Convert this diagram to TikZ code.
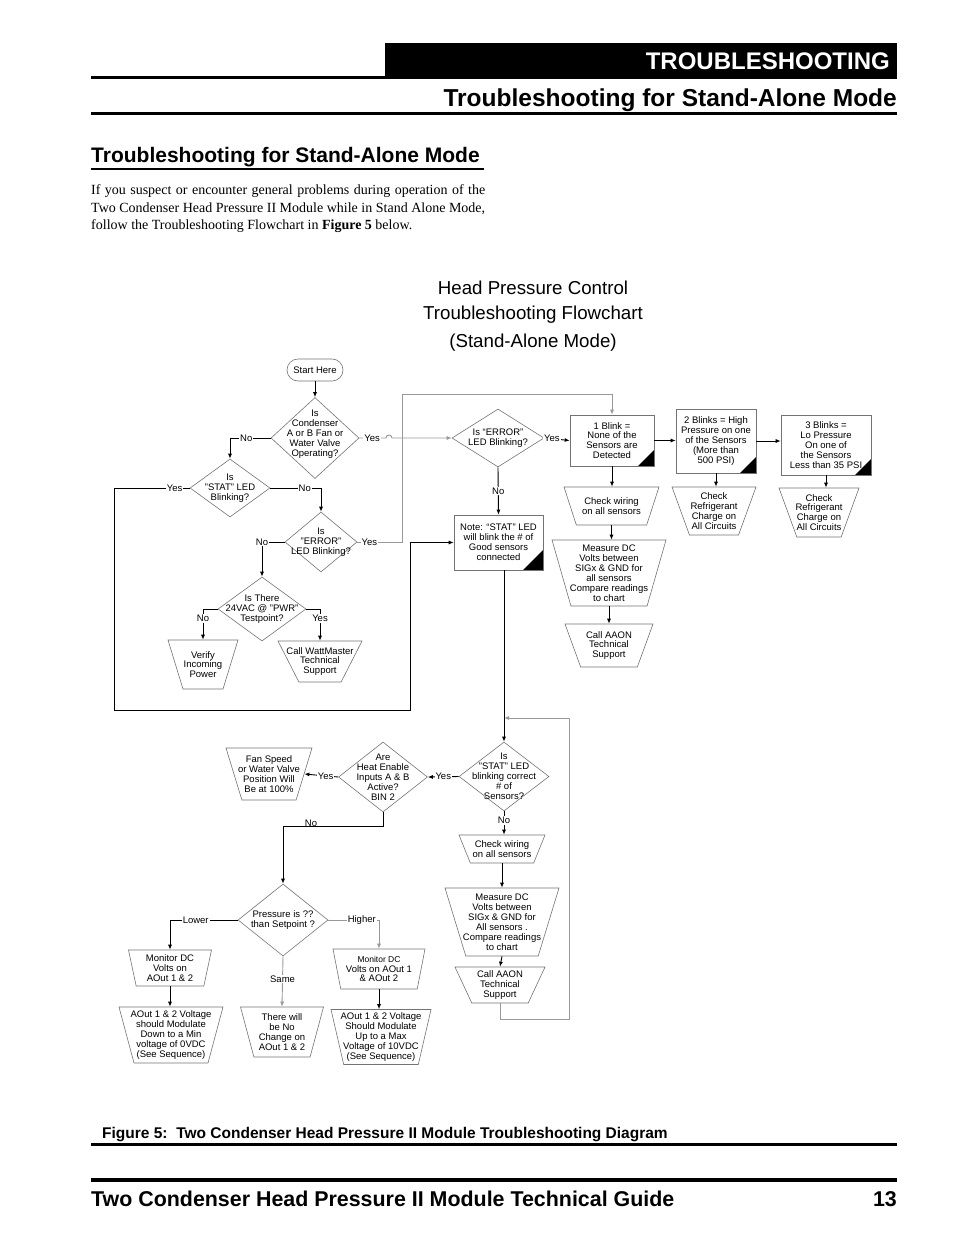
\documentclass[tikz,border=0pt]{standalone}
\usepackage{fontspec}
\setmainfont{Liberation Serif}
\setsansfont{Liberation Sans}
\usetikzlibrary{arrows.meta,shapes.geometric}

\newcommand\chtxt{\sffamily\fontsize{9.5}{9.9}\selectfont}
\newcommand\trh[1]{\rule{0pt}{#1pt}}

\begin{document}
\begin{tikzpicture}[x=1pt,y=-1pt,>={Latex[length=5pt,width=4pt]},
    shp/.style={draw=black!55,line width=.6pt,inner sep=0pt},
    dec/.style={shp,diamond},
    box/.style={shp,rectangle,align=center,font=\chtxt},
    trap/.style={shp,trapezium,shape border rotate=180,trapezium stretches body,
      trapezium left angle=#1,trapezium right angle=#1},
    lab/.style={align=center,font=\chtxt},
    corner/.style={path picture={\fill (path picture bounding box.south east)
      -- ++(-#1,0) -- ++(#1,-#1) -- cycle;}},
    line/.style={line width=.9pt},
    gline/.style={line width=.9pt,black!40},
    yn/.style={font=\chtxt,text=black,fill=white,inner sep=1pt}]
  \useasboundingbox (0,0) rectangle (954,1235);

  % page head
  \fill (385,43) rectangle (897,79);
  \fill (91,76) rectangle (897,79);
  \node[anchor=base east,inner sep=0pt,text=white,
    font=\sffamily\bfseries\fontsize{24}{24}\selectfont] (head) at (890,69) {TROUBLESHOOTING};
  \node[anchor=base east,inner sep=0pt,
    font=\sffamily\bfseries\fontsize{24.5}{24.5}\selectfont] (subhead) at (897,106)
    {Troubleshooting for Stand-Alone Mode};
  \fill (91,112) rectangle (897,115);
  \node[anchor=base west,inner sep=0pt,
    font=\sffamily\bfseries\fontsize{21}{21}\selectfont] (sect) at (91,162)
    {Troubleshooting for Stand-Alone Mode};
  \fill (91,167.5) rectangle (484,169.5);
  \node[anchor=base west,inner sep=0pt,font=\fontsize{14}{17}\selectfont] (par1) at (91,194)
    {\makebox[394pt][s]{If you suspect or encounter general problems during operation of the}};
  \node[anchor=base west,inner sep=0pt,font=\fontsize{14}{17}\selectfont] (par2) at (91,212)
    {\makebox[394pt][s]{Two Condenser Head Pressure II Module while in Stand Alone Mode,}};
  \node[anchor=base west,inner sep=0pt,font=\fontsize{14}{17}\selectfont] (par3) at (91,229)
    {follow the Troubleshooting Flowchart in \textbf{Figure 5} below.};

  % flowchart title
  \node[anchor=base,inner sep=0pt,font=\sffamily\fontsize{18.7}{18.7}\selectfont] (title1) at (533,294) {Head Pressure Control};
  \node[anchor=base,inner sep=0pt,font=\sffamily\fontsize{18.7}{18.7}\selectfont] (title2) at (533,319) {Troubleshooting Flowchart};
  \node[anchor=base,inner sep=0pt,font=\sffamily\fontsize{18.7}{18.7}\selectfont] (title3) at (533,347) {(Stand-Alone Mode)};

  % left part
  \node[shp,rounded corners=11pt,minimum width=56,minimum height=22,font=\chtxt] (start) at (315,370) {Start Here};
  \node[dec,minimum width=88,minimum height=81,
    label={[lab,yshift=4pt]center:{Is\\Condenser\\A or B Fan or\\Water Valve\\Operating?}}] (d1) at (315,438) {};
  \node[dec,minimum width=80,minimum height=58,
    label={[lab]center:{Is\\"STAT" LED\\Blinking?}}] (d2) at (230,488) {};
  \node[dec,minimum width=72,minimum height=60,
    label={[lab]center:{Is\\"ERROR"\\LED Blinking?}}] (d3) at (321,542) {};
  \node[dec,minimum width=88,minimum height=64,
    label={[lab]center:{Is There\\24VAC @ "PWR"\\Testpoint?}}] (d4) at (262,609) {};
  \node[trap=73,minimum width=70,
    label={[lab]center:{Verify\\Incoming\\Power}}] (v1) at (203,664.5) {\trh{49}};
  \node[trap=63,minimum width=84,
    label={[lab]center:{Call WattMaster\\Technical\\Support}}] (t2) at (320,661.5) {\trh{41}};

  % upper right part
  \node[dec,minimum width=92,minimum height=58,
    label={[lab]center:{Is “ERROR”\\LED Blinking?}}] (d5) at (498,438) {};
  \node[box,corner=20,minimum width=89,minimum height=55] (note) at (498.5,542.5)
    {Note: “STAT” LED\\will blink the \# of\\Good sensors\\connected};
  \node[box,corner=16,minimum width=84,minimum height=51] (b1) at (612,440.5)
    {1 Blink =\\None of the\\Sensors are\\Detected};
  \node[box,corner=16,minimum width=80,minimum height=64] (b2) at (716,441)
    {2 Blinks = High\\Pressure on one\\of the Sensors\\(More than\\500 PSI)};
  \node[box,corner=16,minimum width=90,minimum height=60] (b3) at (826,445)
    {3 Blinks =\\Lo Pressure\\On one of\\the Sensors\\Less than 35 PSI};
  \node[trap=70,minimum width=84,
    label={[lab]center:{Check\\Refrigerant\\Charge on\\All Circuits}}] (cr1) at (714,511) {\trh{48}};
  \node[trap=70,minimum width=80,
    label={[lab]center:{Check\\Refrigerant\\Charge on\\All Circuits}}] (cr2) at (819,512.5) {\trh{49}};
  \node[trap=72,minimum width=95,
    label={[lab]center:{Check wiring\\on all sensors}}] (cw1) at (611.5,506) {\trh{38}};
  \node[trap=74,minimum width=114,
    label={[lab]center:{Measure DC\\Volts between\\SIGx \& GND for\\all sensors\\Compare readings\\to chart}}] (ms1) at (609,573) {\trh{66}};
  \node[trap=70,minimum width=88,
    label={[lab]center:{Call AAON\\Technical\\Support}}] (ca1) at (609,645.5) {\trh{43}};

  % lower part
  \node[dec,minimum width=90,minimum height=69,
    label={[lab]center:{Is\\"STAT" LED\\blinking correct\\\# of\\Sensors?}}] (d6) at (504,776.5) {};
  \node[dec,minimum width=89,minimum height=70,
    label={[lab]center:{Are\\Heat Enable\\Inputs  A \& B\\Active?\\BIN 2}}] (d7) at (383,777) {};
  \node[trap=73,minimum width=86,
    label={[lab]center:{Fan Speed\\or Water Valve\\Position Will\\Be at 100\%}}] (fan) at (269,774) {\trh{52}};
  \node[trap=68,minimum width=86,
    label={[lab]center:{Check wiring\\on all sensors}}] (cw2) at (502,849) {\trh{28}};
  \node[trap=73,minimum width=114,
    label={[lab]center:{Measure DC\\Volts between\\SIGx \& GND for\\All sensors .\\Compare readings\\to chart}}] (ms2) at (502,922) {\trh{68}};
  \node[trap=65,minimum width=90,
    label={[lab]center:{Call AAON\\Technical\\Support}}] (ca2) at (500,985) {\trh{36}};
  \node[dec,minimum width=90,minimum height=72,
    label={[lab]center:{Pressure is ??\\than Setpoint ?}}] (d8) at (283,920) {};
  \node[trap=78,minimum width=83,
    label={[lab]center:{Monitor DC\\Volts on\\AOut 1 \& 2}}] (m1) at (170,968) {\trh{36}};
  \node[trap=75,minimum width=104,
    label={[lab]center:{AOut 1 \& 2 Voltage\\should Modulate\\Down to a Min\\voltage of 0VDC\\(See Sequence)}}] (a1) at (171,1035) {\trh{56}};
  \node[trap=75,minimum width=83,
    label={[lab]center:{There will\\be No\\Change on\\AOut 1 \& 2}}] (tw) at (282,1032) {\trh{50}};
  \node[trap=79,minimum width=92,
    label={[lab]center:{{\fontsize{8.5}{9}\selectfont Monitor DC}\\Volts on AOut 1\\\& AOut 2}}] (m2) at (379,969) {\trh{40}};
  \node[trap=77,minimum width=100,
    label={[lab]center:{AOut 1 \& 2 Voltage\\Should Modulate\\Up to a Max\\Voltage of 10VDC\\(See Sequence)}}] (a2) at (381,1037) {\trh{55}};

  % connectors
  \draw[line,->] (start) -- (d1);
  \draw[line,->] (d1.west) -| node[yn,pos=.3]{No} (d2.north);
  \draw[gline,->] (d1.east) -- node[yn,pos=.48]{Yes} (386,438)
    arc[start angle=180,end angle=360,radius=3] -- (d5.west);
  \draw[line,->] (d2.west) -- node[yn,pos=.2]{Yes} (114,488) -- (114,710) -- (410,710) |- (note.west);
  \draw[line,->] (d2.east) -| node[yn,pos=.34]{No} (d3.north);
  \draw[line,->] (d3.west) -| node[yn,pos=.5]{No} (d4.north);
  \draw[gline,->] (d3.east) -- node[yn,pos=.27]{Yes} (402,542) -- (402,394) -| (b1.north);
  \draw[line,->] (d4.west) -| node[yn,pos=.65]{No} (v1.north);
  \draw[line,->] (d4.east) -| node[yn,pos=.65]{Yes} (t2.north);
  \draw[line,->] (d5.east) -- node[yn,pos=.3]{Yes} (b1.west);
  \draw[line,->] (d5.south) -- node[yn]{No} (note.north);
  \draw[line,->] (b1.east) -- (b1.east -| b2.west);
  \draw[line,->] (b2.east) -- (b2.east -| b3.west);
  \draw[line,->] (b1.south) -- (b1.south |- cw1.north);
  \draw[line,->] (cw1.south) -- (cw1.south |- ms1.north);
  \draw[line,->] (ms1.south) -- (ms1.south |- ca1.north);
  \draw[line,->] (b2.south) -- (b2.south |- cr1.north);
  \draw[line,->] (b3.south) -- (b3.south |- cr2.north);
  \draw[line,->] (d6.north |- note.south) -- (d6.north);
  \draw[gline,->] (ca2.south) -- ++(0,16) -| (569,718) -- (d6.north |- 0,718);
  \draw[line,->] (d6.west) -- node[yn]{Yes} (d7.east);
  \draw[line,->] (d7.west) -- node[yn,pos=.37]{Yes} (fan.east);
  \draw[line,->] (d7.south) -- ++(0,14) -| node[pos=.36,above=-1pt,font=\chtxt,inner sep=.5pt]{No} (d8.north);
  \draw[line,->] (d6.south) -- node[yn,pos=.4]{No} (d6.south |- cw2.north);
  \draw[line,->] (cw2.south) -- (ms2.north);
  \draw[line,->] (ms2.south) -- (ca2.north);
  \draw[line,->] (d8.west) -| node[yn,pos=.31]{Lower} (m1.north);
  \draw[gline,->] (d8.east) -| node[yn,pos=.33]{Higher} (m2.north);
  \draw[gline,->] (d8.south) -- node[yn,pos=.45]{Same} (tw.north);
  \draw[line,->] (m1.south) -- (m1.south |- a1.north);
  \draw[line,->] (m2.south) -- (m2.south |- a2.north);

  % caption and foot
  \node[anchor=base west,inner sep=0pt,font=\sffamily\bfseries\fontsize{15.5}{15.5}\selectfont] (cap) at (102,1138)
    {Figure 5:\ \ Two Condenser Head Pressure II Module Troubleshooting Diagram};
  \fill (91,1142.5) rectangle (897,1145.5);
  \fill (91,1178) rectangle (897,1182);
  \node[anchor=base west,inner sep=0pt,font=\sffamily\bfseries\fontsize{21.4}{21.4}\selectfont] (foot) at (91,1206)
    {Two Condenser Head Pressure II Module Technical Guide};
  \node[anchor=base east,inner sep=0pt,font=\sffamily\bfseries\fontsize{21.4}{21.4}\selectfont] (page) at (897,1206) {13};
\end{tikzpicture}
\end{document}
